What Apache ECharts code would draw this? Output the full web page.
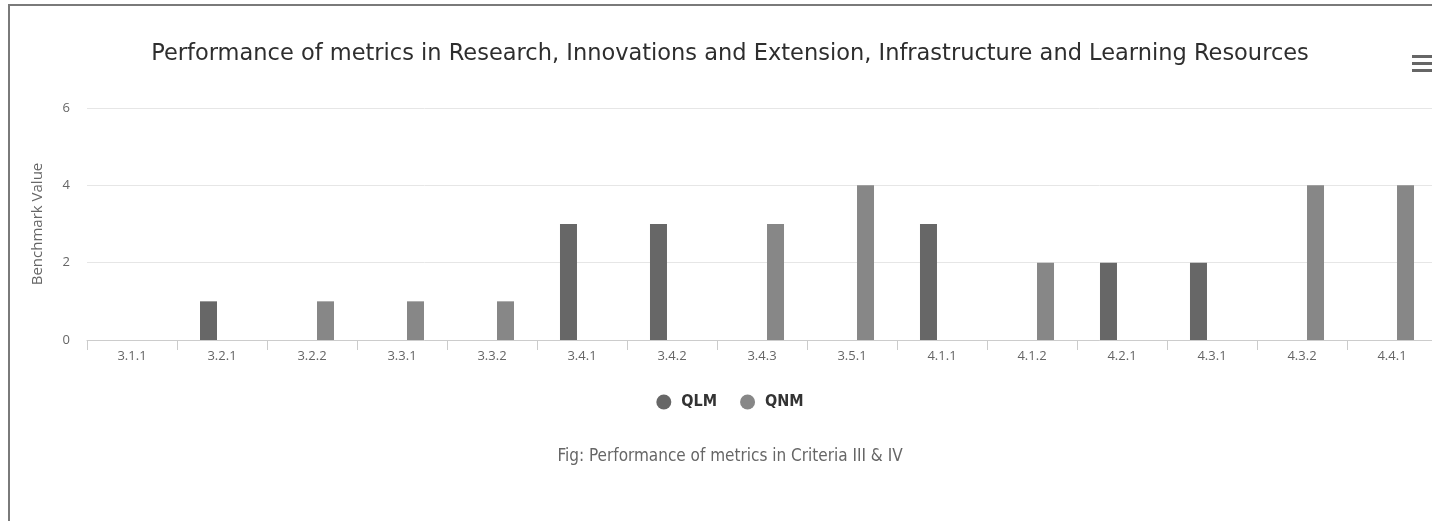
<!DOCTYPE html>
<html>
<head>
<meta charset="utf-8">
<script src="https://cdn.jsdelivr.net/npm/echarts@6/dist/echarts.min.js"></script>
<style>
  html, body { margin: 0; padding: 0; background: #fff; overflow: hidden; width: 1432px; height: 521px; }
  #frame { position: absolute; left: 8px; top: 4px; width: 1444px; height: 530px; border: 2px solid #7a7a7a; box-sizing: border-box; }
  #chart { position: absolute; left: 10px; top: 6px; width: 1440px; height: 515px; }
</style>
</head>
<body>
<div id="frame"></div>
<div id="chart"></div>
<script>
const categories = ['3.1.1','3.2.1','3.2.2','3.3.1','3.3.2','3.4.1','3.4.2','3.4.3','3.5.1','4.1.1','4.1.2','4.2.1','4.3.1','4.3.2','4.4.1'];
const qlmValues = [0,1,0,0,0,3,3,0,0,3,0,2,2,0,0];
const qnmValues = [0,0,1,1,1,0,0,3,4,0,2,0,0,4,4];
const seriesNames = ['QLM','QNM'];
const yTicks = { min: 0, max: 6, interval: 2 };
const titleText = 'Performance of metrics in Research, Innovations and Extension, Infrastructure and Learning Resources';
const captionText = 'Fig: Performance of metrics in Criteria III & IV';
const yAxisName = 'Benchmark Value';

const chart = echarts.init(document.getElementById('chart'), null, { renderer: 'canvas' });
chart.setOption({
  animation: false,
  backgroundColor: '#fff',
  title: [
    { text: titleText, left: 'center', top: 32,
      textStyle: { fontFamily: 'DejaVu Sans', fontSize: 22.5, fontWeight: 'normal', color: '#2e2e2e' } },
    { text: captionText, left: 'center', top: 437,
      textStyle: { fontFamily: 'DejaVu Sans Condensed', fontSize: 17, fontWeight: 'normal', color: '#666' } }
  ],
  legend: {
    data: seriesNames, left: 'center', top: 383, icon: 'circle', itemWidth: 25, itemHeight: 15, itemGap: 23,
    textStyle: { fontFamily: 'DejaVu Sans Condensed', fontSize: 16, fontWeight: 'bold', color: '#333' }
  },
  grid: { left: 77, top: 102, width: 1350, height: 232, containLabel: false },
  xAxis: {
    type: 'category', data: categories,
    axisLine: { lineStyle: { color: '#cccccc', width: 1 } },
    axisTick: { show: true, alignWithLabel: false, length: 10, lineStyle: { color: '#cccccc' } },
    axisLabel: { fontFamily: 'Open Sans', fontSize: 13, color: '#666', margin: 10 }
  },
  yAxis: {
    type: 'value', min: yTicks.min, max: yTicks.max, interval: yTicks.interval,
    name: yAxisName, nameLocation: 'middle', nameGap: 42,
    nameTextStyle: { fontFamily: 'Open Sans', fontSize: 15, color: '#666' },
    axisLine: { show: false }, axisTick: { show: false },
    axisLabel: { fontFamily: 'Open Sans', fontSize: 13, color: '#666', margin: 17 },
    splitLine: { lineStyle: { color: '#e6e6e6', width: 1 } }
  },
  series: [
    { name: seriesNames[0], type: 'bar', data: qlmValues, barWidth: 17, barGap: '59%',
      itemStyle: { color: '#676767' } },
    { name: seriesNames[1], type: 'bar', data: qnmValues, barWidth: 17, barGap: '59%',
      itemStyle: { color: '#878787' } }
  ],
  graphic: [
    { type: 'rect', left: 1402, top: 49, shape: { width: 20, height: 3 }, style: { fill: '#666' } },
    { type: 'rect', left: 1402, top: 56, shape: { width: 20, height: 3 }, style: { fill: '#666' } },
    { type: 'rect', left: 1402, top: 63, shape: { width: 20, height: 3 }, style: { fill: '#666' } }
  ]
});
</script>
</body>
</html>
